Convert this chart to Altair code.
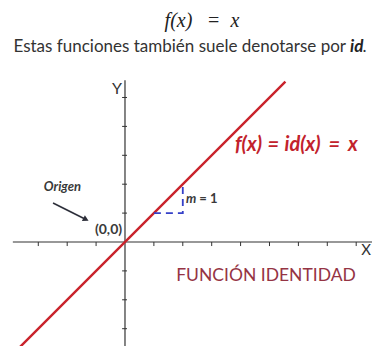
import altair as alt
import pandas as pd

# ---- data (in axis units) ----
line_x = [-3.9, 5.55]
line_y = [-3.9, 5.55]
xaxis_x = [-3.88, 8.7]
yaxis_y = [-3.9, 5.6]
x_ticks = [-3, -2, -1, 1, 2, 3, 4, 5, 6, 7, 8]
y_ticks = [-3, -2, -1, 1, 2, 3, 4, 5]
tri_x = [1, 2, 2]
tri_y = [1, 1, 1.9]
arrow_x = [-2.49, -1.35]
arrow_y = [1.35, 0.78]

xs = alt.Scale(domain=[-4.048, 8.547], nice=False, zero=False)
ys = alt.Scale(domain=[-3.599, 8.097], nice=False, zero=False)


def X(f="x"):
    return alt.X(f, type="quantitative", scale=xs, axis=None)


def Y(f="y"):
    return alt.Y(f, type="quantitative", scale=ys, axis=None)


AX = "#333333"

xaxis = alt.Chart(pd.DataFrame({"x": xaxis_x, "y": [0, 0]})).mark_line(
    color=AX, strokeWidth=1.2).encode(x=X(), y=Y())
yaxis = alt.Chart(pd.DataFrame({"x": [0, 0], "y": yaxis_y})).mark_line(
    color=AX, strokeWidth=1.2).encode(x=X(), y=Y(), order="y:Q")

xt = alt.Chart(pd.DataFrame({"x": x_ticks})).mark_rule(color=AX, strokeWidth=1).encode(
    x=X(), y=alt.Y("y0:Q", scale=ys, axis=None), y2="y1:Q"
).transform_calculate(y0="0", y1="-0.14")
yt = alt.Chart(pd.DataFrame({"y": y_ticks})).mark_rule(color=AX, strokeWidth=1).encode(
    y=Y(), x=alt.X("x0:Q", scale=xs, axis=None), x2="x1:Q"
).transform_calculate(x0="-0.1", x1="0.07")

red = alt.Chart(pd.DataFrame({"x": line_x, "y": line_y})).mark_line(
    color="#c9222b", strokeWidth=2.4).encode(x=X(), y=Y())

tri = alt.Chart(pd.DataFrame({"x": tri_x, "y": tri_y, "o": [0, 1, 2]})).mark_line(
    color="#3540c8", strokeWidth=1.8, strokeDash=[7, 5]).encode(x=X(), y=Y(), order="o:Q")

arrow = alt.Chart(pd.DataFrame({"x": arrow_x, "y": arrow_y})).mark_line(
    color="#2d2f3a", strokeWidth=1.6).encode(x=X(), y=Y())
head = alt.Chart(pd.DataFrame({"x": [arrow_x[1]], "y": [arrow_y[1]]})).mark_point(
    shape="triangle-right", angle=27, size=45, filled=True, color="#2d2f3a", opacity=1
).encode(x=X(), y=Y())


def txt(label, x, y, **kw):
    return alt.Chart(pd.DataFrame({"x": [x], "y": [y], "t": [label]})).mark_text(**kw).encode(
        x=X(), y=Y(), text="t:N")


SERIF = dict(font="Liberation Serif", fontSize=20, color="#222222")
RED = dict(font="Lato", fontSize=20, fontWeight="bold", fontStyle="italic", color="#c2222c")
TY = 7.66
RY = 3.356
labels = [
    txt("f(x)", 1.85, TY, fontStyle="italic", **SERIF),
    txt("=", 3.07, TY, **SERIF),
    txt("x", 3.806, TY, fontStyle="italic", **SERIF),
    txt("Estas funciones también suele denotarse por", 7.647, 6.747, align="right",
        font="Lato", fontSize=17, color="#333333"),
    txt("id", 7.785, 6.747, align="left", font="Lato", fontSize=17, fontWeight="bold",
        fontStyle="italic", color="#222222"),
    txt(".", 8.22, 6.747, align="left", font="Lato", fontSize=17, color="#333333"),
    txt("Y", -0.277, 5.294, font="Lato", fontSize=16, color="#333333"),
    txt("X", 8.34, -0.277, font="Lato", fontSize=15, color="#333333"),
    txt("(0,0)", -0.571, 0.415, font="Lato", fontSize=14, fontWeight="bold", color="#3a3a3a"),
    txt("Origen", -2.163, 1.903, font="Lato", fontSize=13, fontWeight="bold",
        fontStyle="italic", color="#3a3a3a"),
    txt("m", 2.11, 1.488, align="left", font="Lato", fontSize=13, fontWeight="bold",
        fontStyle="italic", color="#3a3a3a"),
    txt("= 1", 2.57, 1.488, align="left", font="Lato", fontSize=13, fontWeight="bold",
        color="#3a3a3a"),
    txt("f(x)", 3.806, RY, align="left", **RED),
    txt("=", 5.13, RY, **RED),
    txt("id(x)", 5.52, RY, align="left", **RED),
    txt("=", 7.24, RY, **RED),
    txt("x", 7.72, RY, align="left", **RED),
    txt("FUNCIÓN IDENTIDAD", 4.879, -1.176, font="Lato", fontSize=17.5, color="#953444"),
]

chart = alt.layer(xaxis, yaxis, xt, yt, red, tri, arrow, head, *labels).properties(
    width=364, height=338, autosize=alt.AutoSizeParams(type="none"), padding=0,
    background="white"
).configure_view(stroke=None)

chart.save("out.html", embed_options={"renderer": "svg", "actions": False})
